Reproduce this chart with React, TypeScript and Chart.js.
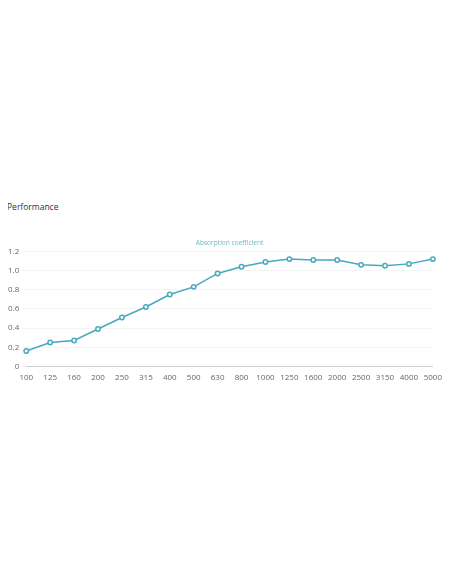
import Chart from "chart.js/auto";
import { useEffect, useRef } from "react";

const frequencies = [
  "100", "125", "160", "200", "250", "315", "400", "500", "630",
  "800", "1000", "1250", "1600", "2000", "2500", "3150", "4000", "5000",
];
const absorption = [
  0.16, 0.25, 0.27, 0.39, 0.51, 0.62, 0.75, 0.83, 0.97,
  1.04, 1.09, 1.12, 1.11, 1.11, 1.06, 1.05, 1.07, 1.12,
];
const seriesLabel = "Absorption coefficient";

const teal = "#47a9bd";
const font = "'Open Sans', sans-serif";

export default function App() {
  const canvasRef = useRef<HTMLCanvasElement | null>(null);
  const chartRef = useRef<Chart | null>(null);

  useEffect(() => {
    if (!canvasRef.current) {
      return;
    }
    chartRef.current?.destroy();

    chartRef.current = new Chart(canvasRef.current, {
      type: "line",
      data: {
        labels: frequencies,
        datasets: [
          {
            label: seriesLabel,
            data: absorption,
            borderColor: teal,
            backgroundColor: "#ffffff",
            borderWidth: 1.5,
            pointRadius: 2.2,
            pointBorderWidth: 1.5,
            pointBackgroundColor: "#ffffff",
            pointBorderColor: teal,
            tension: 0,
            fill: false,
          },
        ],
      },
      options: {
        animation: false,
        responsive: true,
        maintainAspectRatio: false,
        layout: { padding: 0 },
        plugins: {
          // series name shown as a plain caption above the plot
          legend: { display: false },
          title: {
            display: true,
            text: seriesLabel,
            fullSize: false,
            color: "#72b6c6",
            padding: { top: 0, bottom: 4.5 },
            font: { family: font, size: 6.6, weight: 400, style: "normal" },
          },
          tooltip: { enabled: false },
        },
        scales: {
          x: {
            offset: false,
            grid: { display: false, drawTicks: false },
            border: { color: "#d0d0d0" },
            ticks: {
              color: "#666",
              padding: 7,
              maxRotation: 0,
              autoSkip: false,
              font: { family: font, size: 8 },
            },
          },
          y: {
            min: 0,
            max: 1.2,
            grid: { color: "#f3f3f3", drawTicks: true, tickLength: 4 },
            border: { display: false },
            ticks: {
              stepSize: 0.2,
              color: "#666",
              padding: 3,
              font: { family: font, size: 8 },
              callback: (v) => (v === 0 ? "0" : Number(v).toFixed(1)),
            },
          },
        },
      },
    });

    return () => {
      chartRef.current?.destroy();
    };
  }, []);

  return (
    <div style={{ fontFamily: font }}>
      <div style={{ marginTop: 192, fontSize: 8.5, lineHeight: "14px", color: "#333", marginLeft: -1 }}>
        Performance
      </div>
      <div style={{ position: "relative", height: 151, marginTop: 24.5, marginLeft: -3, marginRight: -5 }}>
        <canvas ref={canvasRef} />
      </div>
    </div>
  );
}
